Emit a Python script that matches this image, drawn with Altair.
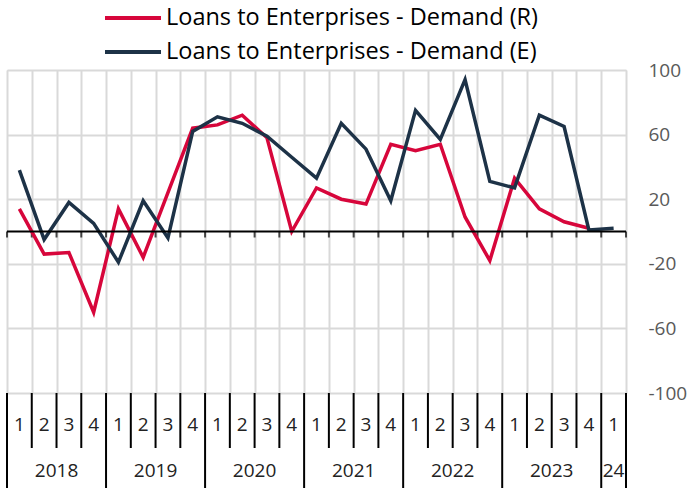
import altair as alt
import pandas as pd

# ---- data ----
years = ["2018", "2019", "2020", "2021", "2022", "2023", "24"]
quarters_per_year = [4, 4, 4, 4, 4, 4, 1]
quarter_labels = ["1", "2", "3", "4"] * 6 + ["1"]

series_r_name = "Loans to Enterprises - Demand (R)"
series_e_name = "Loans to Enterprises - Demand (E)"

demand_r = [14, -14, -13, -50, 14, -16, 24, 64, 66, 72, 58, 0,
            27, 20, 17, 54, 50, 54, 9, -18, 33, 14, 6, 2, None]
demand_e = [38, -5, 18, 5, -19, 19, -4, 62, 71, 67, 59, 46,
            33, 67, 51, 19, 75, 57, 94, 31, 27, 72, 65, 1, 2]

y_ticks = [-100, -60, -20, 20, 60, 100]

RED = "#d7063b"
NAVY = "#1d3247"
GRID = "#d9d9d9"
FONT = "Open Sans"

n = len(quarter_labels)
W, H = 619, 323

# ---- tables ----
rows = []
for i in range(n):
    rows.append({"pos": i + 0.5, "series": series_r_name, "value": demand_r[i]})
    rows.append({"pos": i + 0.5, "series": series_e_name, "value": demand_e[i]})
lines_df = pd.DataFrame(rows)

q_df = pd.DataFrame({"pos": [i + 0.5 for i in range(n)], "q": quarter_labels})

starts = []
s = 0
for k in quarters_per_year:
    starts.append(s)
    s += k
year_df = pd.DataFrame({
    "year": years,
    "center": [st + k / 2 for st, k in zip(starts, quarters_per_year)],
})
year_bounds = set(starts + [n])
bound_df = pd.DataFrame({
    "b": list(range(n + 1)),
    "long": [b in year_bounds for b in range(n + 1)],
})

xscale = alt.Scale(domain=[0, n], nice=False, zero=False)
yscale = alt.Scale(domain=[-100, 100], nice=False)

x_axis = alt.Axis(values=list(range(n + 1)), grid=True, gridColor=GRID, gridWidth=2,
                  labels=False, ticks=False, domain=False, title=None)
y_axis = alt.Axis(orient="right", values=y_ticks, grid=True, gridColor=GRID, gridWidth=2,
                  domain=False, ticks=False, tickSize=0, labelPadding=22,
                  labelExpr="'' + datum.value",
                  labelFont=FONT, labelFontSize=19, labelColor="#595959", title=None)

lines = alt.Chart(lines_df).mark_line(strokeWidth=3.5).encode(
    x=alt.X("pos:Q", scale=xscale, axis=x_axis),
    y=alt.Y("value:Q", scale=yscale, axis=y_axis),
    color=alt.Color(
        "series:N",
        scale=alt.Scale(domain=[series_r_name, series_e_name], range=[RED, NAVY]),
        legend=alt.Legend(
            orient="none", legendX=124, legendY=-68, title=None,
            symbolType="M-3,0H1", symbolSize=784, symbolStrokeWidth=4,
            labelFont=FONT, labelFontSize=23.5, labelColor="#000000", labelLimit=0,
            labelOffset=3, rowPadding=6, padding=0,
        ),
    ),
)

zero_rule = alt.Chart(pd.DataFrame({"z": [0]})).mark_rule(color="#000000", strokeWidth=2).encode(
    y=alt.Y("z:Q", scale=yscale, axis=y_axis),
)

zero_ticks = alt.Chart(bound_df).mark_tick(
    orient="vertical", size=6, yOffset=3, thickness=2, color="#000000"
).encode(
    x=alt.X("b:Q", scale=xscale, axis=x_axis),
    y=alt.datum(0, scale=yscale, axis=y_axis),
)

short_rules = alt.Chart(bound_df).transform_filter("!datum.long").mark_rule(
    color="#000000", strokeWidth=2
).encode(
    x=alt.X("b:Q", scale=xscale, axis=x_axis),
    y=alt.value(H),
    y2=alt.value(H + 55),
)

long_rules = alt.Chart(bound_df).transform_filter("datum.long").mark_rule(
    color="#000000", strokeWidth=2
).encode(
    x=alt.X("b:Q", scale=xscale, axis=x_axis),
    y=alt.value(H),
    y2=alt.value(H + 95),
)

q_text = alt.Chart(q_df).mark_text(
    font=FONT, fontSize=19, color="#222222", baseline="middle", align="center"
).encode(
    x=alt.X("pos:Q", scale=xscale, axis=x_axis),
    y=alt.value(H + 32),
    text="q:N",
)

year_text = alt.Chart(year_df).mark_text(
    font=FONT, fontSize=19, color="#222222", baseline="middle", align="center"
).encode(
    x=alt.X("center:Q", scale=xscale, axis=x_axis),
    y=alt.value(H + 78),
    text="year:N",
)

chart = alt.layer(
    zero_ticks, lines, zero_rule, short_rules, long_rules, q_text, year_text
).properties(
    width=W, height=H,
    padding={"left": 7, "top": 70, "right": 69, "bottom": 95},
    autosize=alt.AutoSizeParams(type="none"),
).configure_view(stroke=None).configure(background="white")

chart.save("out.html", embed_options={"renderer": "svg", "actions": False})
